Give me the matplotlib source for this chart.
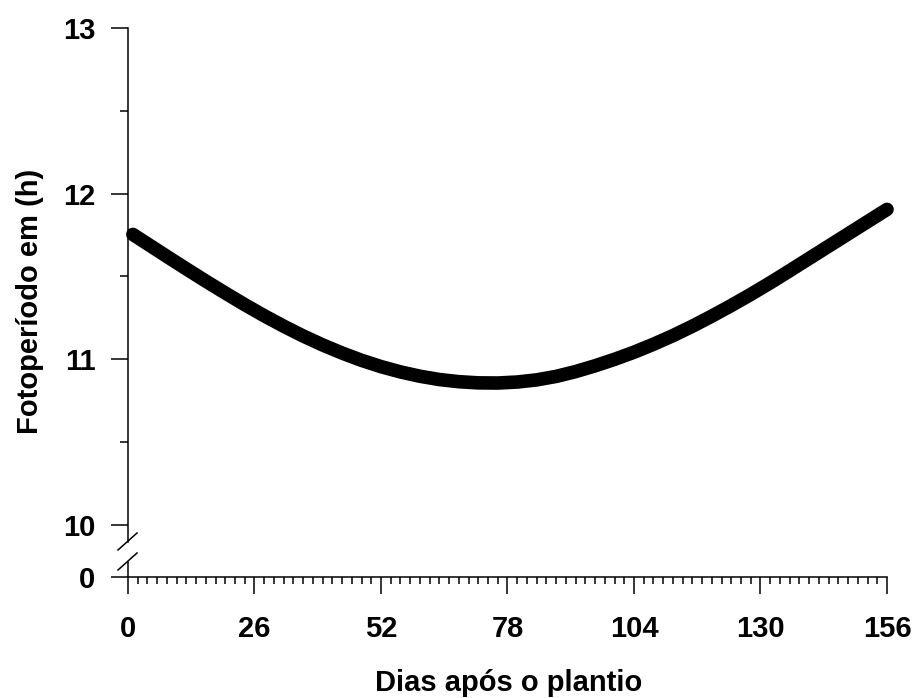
import matplotlib
matplotlib.use('Agg')
import matplotlib.pyplot as plt
from matplotlib.ticker import MultipleLocator, FixedLocator
from matplotlib.lines import Line2D

# ---- data ----
days = [1, 4, 8, 12, 16, 20, 24, 28, 32, 36, 40, 44, 48, 52, 56, 60, 64, 68, 72, 76,
        80, 84, 88, 92, 96, 100, 104, 108, 112, 116, 120, 124, 128, 132, 136, 140,
        144, 148, 152, 156]
photoperiod = [11.754, 11.697, 11.621, 11.546, 11.472, 11.400, 11.330, 11.263, 11.200,
               11.141, 11.087, 11.038, 10.994, 10.956, 10.924, 10.898, 10.878, 10.865,
               10.858, 10.857, 10.863, 10.876, 10.897, 10.926, 10.961, 11.000, 11.043,
               11.091, 11.143, 11.200, 11.261, 11.325, 11.392, 11.462, 11.535, 11.609,
               11.683, 11.757, 11.831, 11.905]
x_ticks = [0, 26, 52, 78, 104, 130, 156]
y_ticks_top = [10, 11, 12, 13]
y_ticks_bottom = [0]
x_label = 'Dias após o plantio'
y_label = 'Fotoperíodo em (h)'

plt.rcParams['font.family'] = ['Liberation Sans', 'DejaVu Sans']
plt.rcParams['font.weight'] = 'bold'

W, H = 918, 698
fig = plt.figure(figsize=(W / 100, H / 100), dpi=100)

def px_rect(x0, y_top, x1, y_bot):
    return [x0 / W, 1 - y_bot / H, (x1 - x0) / W, (y_bot - y_top) / H]

ax_top = fig.add_axes(px_rect(128, 28, 887, 541.5))
ax_bot = fig.add_axes(px_rect(128, 561.5, 887, 577))

FS = 21
LW = 1.1
CW = 9.8

# top panel: dense circular markers form a continuous band
ax_top.plot(days, photoperiod, color='black', lw=CW,
            solid_capstyle='round', solid_joinstyle='round', clip_on=False, zorder=3)
ax_top.set_xlim(0, 156)
ax_top.set_ylim(9.9004, 13)
for s in ['top', 'right', 'bottom']:
    ax_top.spines[s].set_visible(False)
ax_top.spines['left'].set_linewidth(LW)
ax_top.yaxis.set_major_locator(FixedLocator(y_ticks_top))
ax_top.set_yticklabels([str(v) for v in y_ticks_top])
ax_top.yaxis.set_minor_locator(MultipleLocator(0.5))
ax_top.tick_params(axis='y', which='major', direction='out', length=12.2, width=LW,
                   labelsize=FS, pad=11.3)
ax_top.tick_params(axis='y', which='minor', direction='out', length=5.8, width=LW)
ax_top.tick_params(axis='x', which='both', bottom=False, labelbottom=False)
ax_top.patch.set_alpha(0)

# bottom panel
ax_bot.set_xlim(0, 156)
ax_bot.set_ylim(0, 1)
for s in ['top', 'right']:
    ax_bot.spines[s].set_visible(False)
ax_bot.spines['left'].set_linewidth(LW)
ax_bot.spines['bottom'].set_linewidth(LW)
ax_bot.yaxis.set_major_locator(FixedLocator(y_ticks_bottom))
ax_bot.set_yticklabels([str(v) for v in y_ticks_bottom])
ax_bot.xaxis.set_major_locator(FixedLocator(x_ticks))
ax_bot.set_xticklabels([str(v) for v in x_ticks])
ax_bot.xaxis.set_minor_locator(MultipleLocator(2))
ax_bot.tick_params(axis='y', which='major', direction='out', length=12.2, width=LW,
                   labelsize=FS, pad=11.3)
ax_bot.tick_params(axis='x', which='major', direction='out', length=12.2, width=LW,
                   labelsize=FS, pad=15)
ax_bot.tick_params(axis='x', which='minor', direction='out', length=5.0, width=LW)
ax_bot.patch.set_alpha(0)

# axis break marks
for (x0, y0, x1, y1) in [(118, 550, 137, 533), (118, 570, 137, 553)]:
    fig.add_artist(Line2D([x0 / W, x1 / W], [1 - y0 / H, 1 - y1 / H],
                          transform=fig.transFigure, color='black', lw=LW))

fig.text(509 / W, 7.3 / H, x_label, ha='center', va='baseline',
         fontsize=FS, fontweight='bold')
fig.text(30 / W, 1 - 301.5 / H, y_label, rotation=90, ha='center', va='center',
         fontsize=FS, fontweight='bold')

fig.savefig('out.png', dpi=100)
